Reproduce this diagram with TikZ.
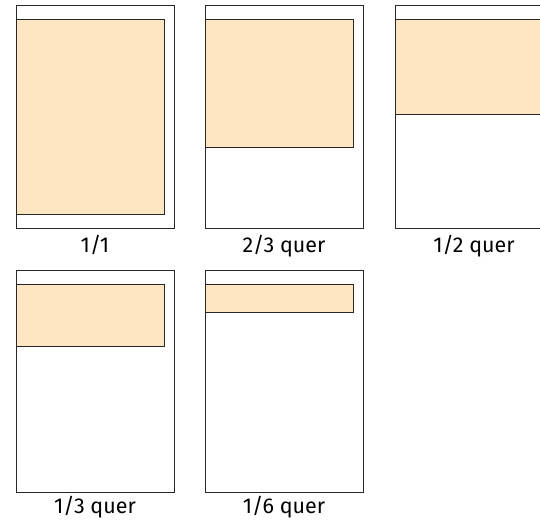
\documentclass[tikz,border=0pt]{standalone}
\usepackage{fontspec}
\setmainfont{Fira Sans}
\definecolor{adfill}{RGB}{253,230,193}
\definecolor{pageline}{RGB}{40,40,40}
\begin{document}
\begin{tikzpicture}[x=1pt,y=-1pt,
  pageframe/.style={draw=pageline,line width=0.9pt,fill=white},
  adbox/.style={draw=pageline,line width=0.9pt,fill=adfill},
  caption/.style={anchor=base,font=\fontsize{21.5}{23}\selectfont,inner sep=0pt}]
\useasboundingbox (0,0) rectangle (540,523);
\begin{scope}
\clip (0,0) rectangle (540,523);
% page 1
\draw[pageframe] (16,5) rectangle (174,228);
\draw[adbox] (16,19) rectangle (164,214);
\node[caption] (c1) at (95,252) {1/1};
% page 2
\draw[pageframe] (205,5) rectangle (363,228);
\draw[adbox] (205,19) rectangle (353,147);
\node[caption] (c2) at (284,252) {2/3 quer};
% page 3
\draw[pageframe] (395,5) rectangle (553,228);
\draw[adbox] (395,19) rectangle (543,114);
\node[caption] (c3) at (474,252) {1/2 quer};
% page 4
\draw[pageframe] (16,270) rectangle (174,492);
\draw[adbox] (16,284) rectangle (164,346);
\node[caption] (c4) at (95,513) {1/3 quer};
% page 5
\draw[pageframe] (205,270) rectangle (363,492);
\draw[adbox] (205,284) rectangle (353,312);
\node[caption] (c5) at (284,513) {1/6 quer};
\end{scope}
\end{tikzpicture}
\end{document}
